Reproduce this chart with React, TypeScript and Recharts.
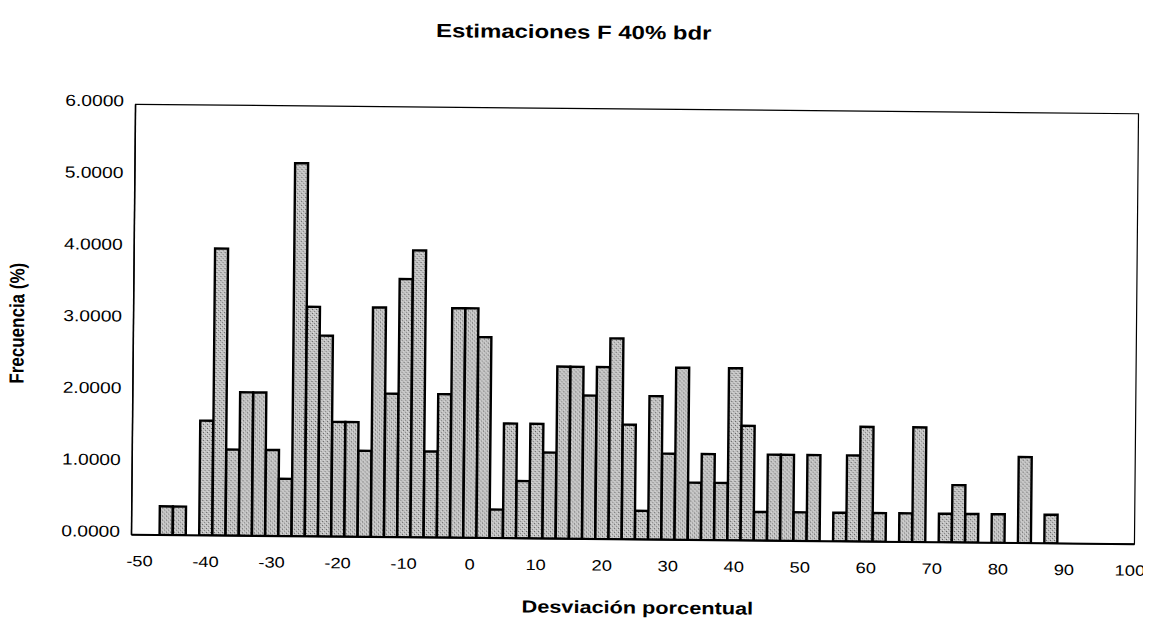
import React from 'react';
import { BarChart, Bar, XAxis, YAxis, ReferenceArea } from 'recharts';

// Bin centres (Desviación porcentual) and frequency (%) per bin
const binCenters = [
  -46, -44, -42, -40, -38, -36, -34, -32, -30, -28, -26, -24, -22, -20, -18, -16, -14,
  -12, -10, -8, -6, -4, -2, 0, 2, 4, 6, 8, 10, 12, 14, 16, 18, 20, 22, 24, 26, 28, 30,
  32, 34, 36, 38, 40, 42, 44, 46, 48, 50, 52, 54, 56, 58, 60, 62, 64, 66, 68, 70, 72,
  74, 76, 78, 80, 82, 84, 86, 88,
];
const frequencies = [
  0.4, 0.4, 0, 1.6, 4.0, 1.2, 2.0, 2.0, 1.2, 0.8, 5.2, 3.2, 2.8, 1.6, 1.6, 1.2, 3.2,
  2.0, 3.6, 4.0, 1.2, 2.0, 3.2, 3.2, 2.8, 0.4, 1.6, 0.8, 1.6, 1.2, 2.4, 2.4, 2.0, 2.4,
  2.8, 1.6, 0.4, 2.0, 1.2, 2.4, 0.8, 1.2, 0.8, 2.4, 1.6, 0.4, 1.2, 1.2, 0.4, 1.2, 0,
  0.4, 1.2, 1.6, 0.4, 0, 0.4, 1.6, 0, 0.4, 0.8, 0.4, 0, 0.4, 0, 1.2, 0, 0.4,
];
const xTicks = [-50, -40, -30, -20, -10, 0, 10, 20, 30, 40, 50, 60, 70, 80, 90, 100];
const yTicks = [0, 1, 2, 3, 4, 5, 6];

const titleText = 'Estimaciones F 40% bdr';
const xLabelText = 'Desviación porcentual';
const yLabelText = 'Frecuencia (%)';

const data = binCenters.map((x, i) => ({ x, f: frequencies[i] }));

const FONT = '"Liberation Sans", Arial, Helvetica, sans-serif';
const X_DOMAIN: [number, number] = [-51.25, 100.65];

const XTick = (props: any) => {
  const { x, y, payload } = props;
  return (
    <text
      transform={`translate(${x},${y + 31.5}) scale(1.22,1)`}
      textAnchor="middle"
      fontFamily={FONT}
      fontSize={15}
      fill="#000"
    >
      {payload.value}
    </text>
  );
};

const YTick = (props: any) => {
  const { x, y, payload } = props;
  return (
    <text
      transform={`translate(${x - 11.5},${y + 2.2}) scale(1.2,1)`}
      textAnchor="end"
      fontFamily={FONT}
      fontSize={16}
      fill="#000"
    >
      {Number(payload.value).toFixed(4)}
    </text>
  );
};

export default function App() {
  return (
    <div
      style={{
        position: 'relative',
        width: 1143,
        height: 613,
        transform: 'rotate(0.54deg)',
        transformOrigin: '627px 316px',
        fontFamily: FONT,
        background: '#fff',
      }}
    >
      <BarChart
        width={1143}
        height={613}
        data={data}
        margin={{ top: 101, right: 14.5, bottom: 51.5, left: 0 }}
        barCategoryGap={0}
        barGap={0}
      >
        <defs>
          <pattern id="stipple" width="4" height="4" patternUnits="userSpaceOnUse">
            <rect width="4" height="4" fill="#c2c2c2" />
            <rect x="0" y="0" width="1" height="1" fill="#5e5e5e" />
            <rect x="2" y="2" width="1" height="1" fill="#7e7e7e" />
            <rect x="1" y="3" width="1" height="1" fill="#e2e2e2" />
            <rect x="3" y="1" width="1" height="1" fill="#dcdcdc" />
          </pattern>
        </defs>
        <XAxis
          dataKey="x"
          type="number"
          domain={X_DOMAIN}
          ticks={xTicks}
          interval={0}
          height={30}
          tickSize={0}
          tickMargin={0}
          tickLine={false}
          axisLine={{ stroke: '#000', strokeWidth: 2 }}
          tick={<XTick />}
          allowDataOverflow
        />
        <YAxis
          type="number"
          domain={[0, 6]}
          ticks={yTicks}
          interval={0}
          width={125.5}
          tickSize={0}
          tickMargin={0}
          tickLine={false}
          axisLine={{ stroke: '#000', strokeWidth: 1.5 }}
          tick={<YTick />}
          allowDataOverflow
        />
        <ReferenceArea
          x1={X_DOMAIN[0]}
          x2={X_DOMAIN[1]}
          y1={0}
          y2={6}
          fill="none"
          fillOpacity={0}
          stroke="#000"
          strokeWidth={1.2}
          ifOverflow="visible"
        />
        <Bar
          dataKey="f"
          fill="url(#stipple)"
          stroke="#000"
          strokeWidth={2.4}
          isAnimationActive={false}
        />
      </BarChart>
      <div
        style={{
          position: 'absolute',
          left: 562.5,
          top: 24.5,
          transform: 'translate(-50%,-50%) scaleX(1.26)',
          fontWeight: 'bold',
          fontSize: 19,
          whiteSpace: 'nowrap',
          color: '#000',
        }}
      >
        {titleText}
      </div>
      <div
        style={{
          position: 'absolute',
          left: 632,
          top: 600,
          transform: 'translate(-50%,-50%) scaleX(1.24)',
          fontWeight: 'bold',
          fontSize: 17.5,
          whiteSpace: 'nowrap',
          color: '#000',
        }}
      >
        {xLabelText}
      </div>
      <div
        style={{
          position: 'absolute',
          left: 10,
          top: 321,
          transform: 'translate(-50%,-50%) rotate(-90deg) scaleY(1.2)',
          fontWeight: 'bold',
          fontSize: 17,
          whiteSpace: 'nowrap',
          color: '#000',
        }}
      >
        {yLabelText}
      </div>
    </div>
  );
}
